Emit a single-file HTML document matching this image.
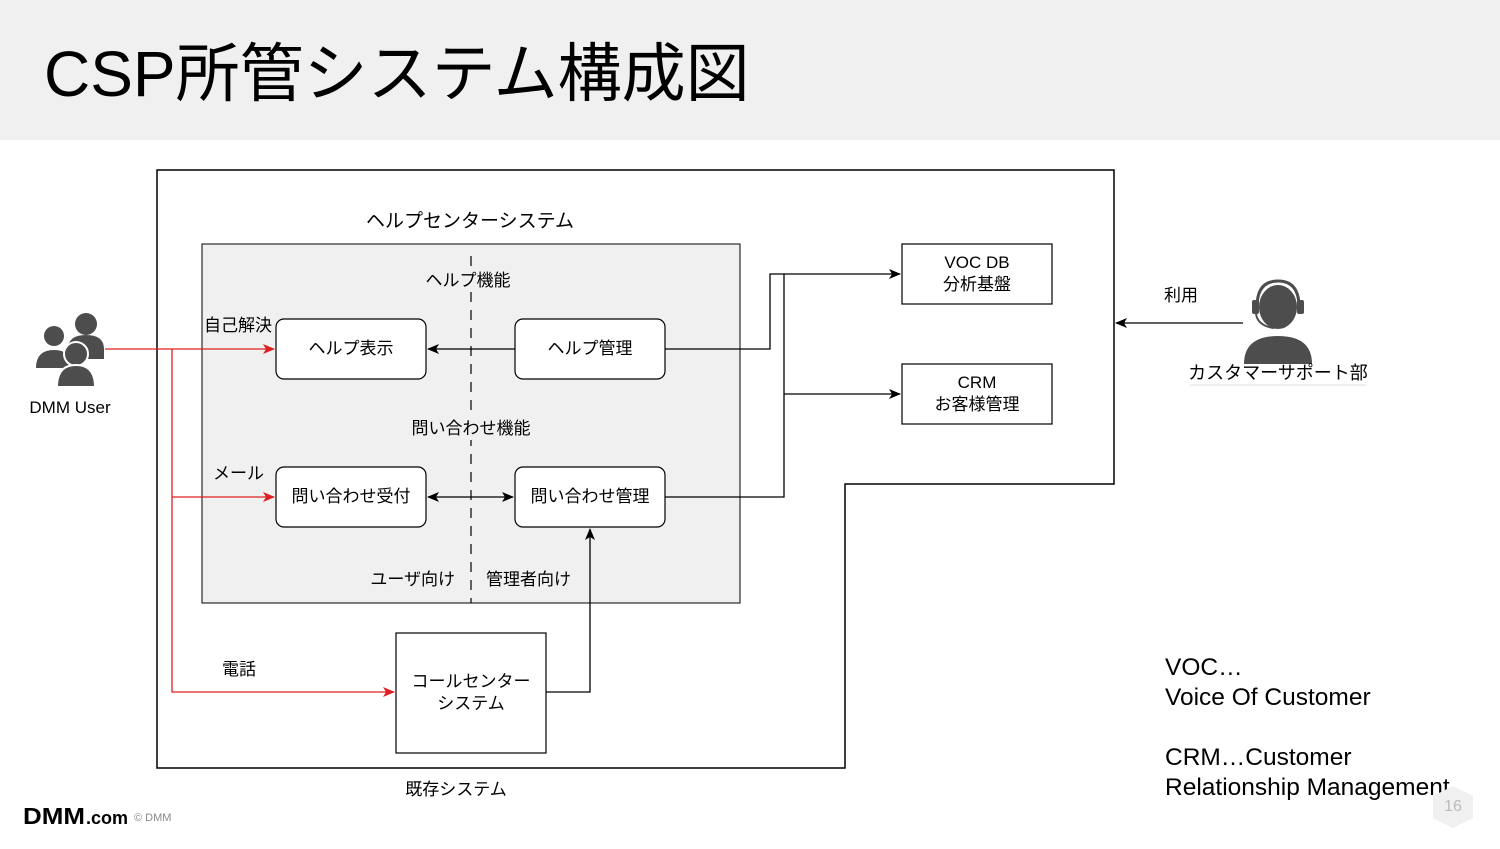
<!DOCTYPE html>
<html><head><meta charset="utf-8"><style>
body{margin:0;width:1500px;height:844px;overflow:hidden;background:#fff;font-family:"Liberation Sans","Noto Sans CJK JP",sans-serif}
svg text{font-family:"Liberation Sans","Noto Sans CJK JP",sans-serif}
</style></head><body>
<svg width="1500" height="844" viewBox="0 0 1500 844" xmlns="http://www.w3.org/2000/svg">
<defs>
<marker id="ab" markerWidth="12" markerHeight="10" refX="11" refY="5" orient="auto" markerUnits="userSpaceOnUse"><path d="M0,0 L12,5 L0,10 L3,5 z" fill="#000"/></marker>
<marker id="abs" markerWidth="12" markerHeight="10" refX="1" refY="5" orient="auto" markerUnits="userSpaceOnUse"><path d="M12,0 L0,5 L12,10 L9,5 z" fill="#000"/></marker>
<marker id="ar" markerWidth="12" markerHeight="10" refX="11" refY="5" orient="auto" markerUnits="userSpaceOnUse"><path d="M0,0 L12,5 L0,10 L3,5 z" fill="#e02020"/></marker>
</defs>
<rect x="0" y="0" width="1500" height="140" fill="#f0f0f0"/>
<text x="44" y="96" font-size="64" fill="#000">CSP所管システム構成図</text>

<path d="M157,170 H1114 V484 H845 V768 H157 Z" fill="none" stroke="#000" stroke-width="1.5"/>
<rect x="202" y="244" width="538" height="359" fill="#f0f0f0" stroke="#000" stroke-width="1"/>
<line x1="471" y1="256" x2="471" y2="603" stroke="#000" stroke-width="1.2" stroke-dasharray="10,8"/>
<text x="470" y="227" font-size="19" text-anchor="middle">ヘルプセンターシステム</text>
<rect x="420" y="268" width="100" height="24" fill="#f0f0f0"/>
<text x="468" y="286" font-size="17" text-anchor="middle">ヘルプ機能</text>
<rect x="405" y="416" width="132" height="24" fill="#f0f0f0"/>
<text x="471" y="434" font-size="17" text-anchor="middle">問い合わせ機能</text>
<text x="455" y="585" font-size="17" text-anchor="end">ユーザ向け</text>
<text x="486" y="585" font-size="17">管理者向け</text>
<text x="204" y="331" font-size="17">自己解決</text>
<text x="213" y="479" font-size="17">メール</text>
<text x="222" y="675" font-size="17">電話</text>
<text x="456" y="795" font-size="17" text-anchor="middle">既存システム</text>

<g fill="#fff" stroke="#000" stroke-width="1.2">
<rect x="276" y="319" width="150" height="60" rx="8"/>
<rect x="515" y="319" width="150" height="60" rx="8"/>
<rect x="276" y="467" width="150" height="60" rx="8"/>
<rect x="515" y="467" width="150" height="60" rx="8"/>
<rect x="396" y="633" width="150" height="120"/>
<rect x="902" y="244" width="150" height="60"/>
<rect x="902" y="364" width="150" height="60"/>
</g>
<g font-size="17" text-anchor="middle">
<text x="351" y="354">ヘルプ表示</text>
<text x="590" y="354">ヘルプ管理</text>
<text x="351" y="502">問い合わせ受付</text>
<text x="590" y="502">問い合わせ管理</text>
<text x="471" y="687">コールセンター</text>
<text x="471" y="709">システム</text>
<text x="977" y="268">VOC DB</text>
<text x="977" y="290">分析基盤</text>
<text x="977" y="388">CRM</text>
<text x="977" y="410">お客様管理</text>
</g>

<g fill="none" stroke="#000" stroke-width="1.3">
<line x1="515" y1="349" x2="428" y2="349" marker-end="url(#ab)"/>
<line x1="428" y1="497" x2="513" y2="497" marker-start="url(#abs)" marker-end="url(#ab)"/>
<path d="M546,692 H590 V529" marker-end="url(#ab)"/>
<path d="M665,349 H770 V274 H900" marker-end="url(#ab)"/>
<path d="M665,497 H784 V274"/>
<path d="M784,394 H900" marker-end="url(#ab)"/>
<line x1="1243" y1="323" x2="1116" y2="323" marker-end="url(#ab)"/>
</g>
<g fill="none" stroke="#e02020" stroke-width="1.3">
<line x1="105" y1="349" x2="274" y2="349" marker-end="url(#ar)"/>
<path d="M172,349 V692 H394" marker-end="url(#ar)"/>
<line x1="172" y1="497" x2="274" y2="497" marker-end="url(#ar)"/>
</g>

<g fill="#4d4d4d">
<circle cx="86" cy="324" r="11"/><path d="M68,349 q0,-14 18,-14 q18,0 18,14 v10 h-36z"/>
<circle cx="54" cy="336" r="10"/><path d="M36,368 q0,-18 18,-18 q18,0 18,18 z"/>
<circle cx="76" cy="354" r="12" stroke="#fff" stroke-width="2"/><path d="M57,387 q0,-22 19,-22 q19,0 19,22 z" stroke="#fff" stroke-width="2"/>
</g>
<text x="70" y="413" font-size="17" text-anchor="middle">DMM User</text>

<g>
<path d="M1244,364 q0,-28 34,-28 q34,0 34,28 z" fill="#4d4d4d"/>
<ellipse cx="1278" cy="307" rx="19" ry="22" fill="#4d4d4d"/>
<path d="M1257,307 q0,-26 21,-26 q21,0 21,26" fill="none" stroke="#4d4d4d" stroke-width="3"/>
<rect x="1252" y="300" width="7" height="14" rx="2" fill="#4d4d4d"/>
<rect x="1297" y="300" width="7" height="14" rx="2" fill="#4d4d4d"/>
<path d="M1256,314 q2,12 18,14" fill="none" stroke="#4d4d4d" stroke-width="2"/>
</g>
<text x="1181" y="301" font-size="17" text-anchor="middle">利用</text>
<text x="1278" y="379" font-size="18" text-anchor="middle">カスタマーサポート部</text>
<line x1="1190" y1="385" x2="1366" y2="385" stroke="#ddd"/>

<g font-size="24.5">
<text x="1165" y="675">VOC…</text>
<text x="1165" y="705">Voice Of Customer</text>
<text x="1165" y="765">CRM…Customer</text>
<text x="1165" y="795">Relationship Management</text>
</g>
<path d="M1453,786 l20,10 v22 l-20,10 l-20,-10 v-22 z" fill="#f0f0f0"/>
<text x="1453" y="811" font-size="16" fill="#bbb" text-anchor="middle">16</text>

<text x="23" y="824" font-size="23" font-weight="bold" fill="#000" textLength="62" lengthAdjust="spacingAndGlyphs">DMM</text>
<text x="86" y="824" font-size="18" font-weight="bold">.com</text>
<text x="134" y="821" font-size="11" fill="#888">© DMM</text>
</svg>
</body></html>
